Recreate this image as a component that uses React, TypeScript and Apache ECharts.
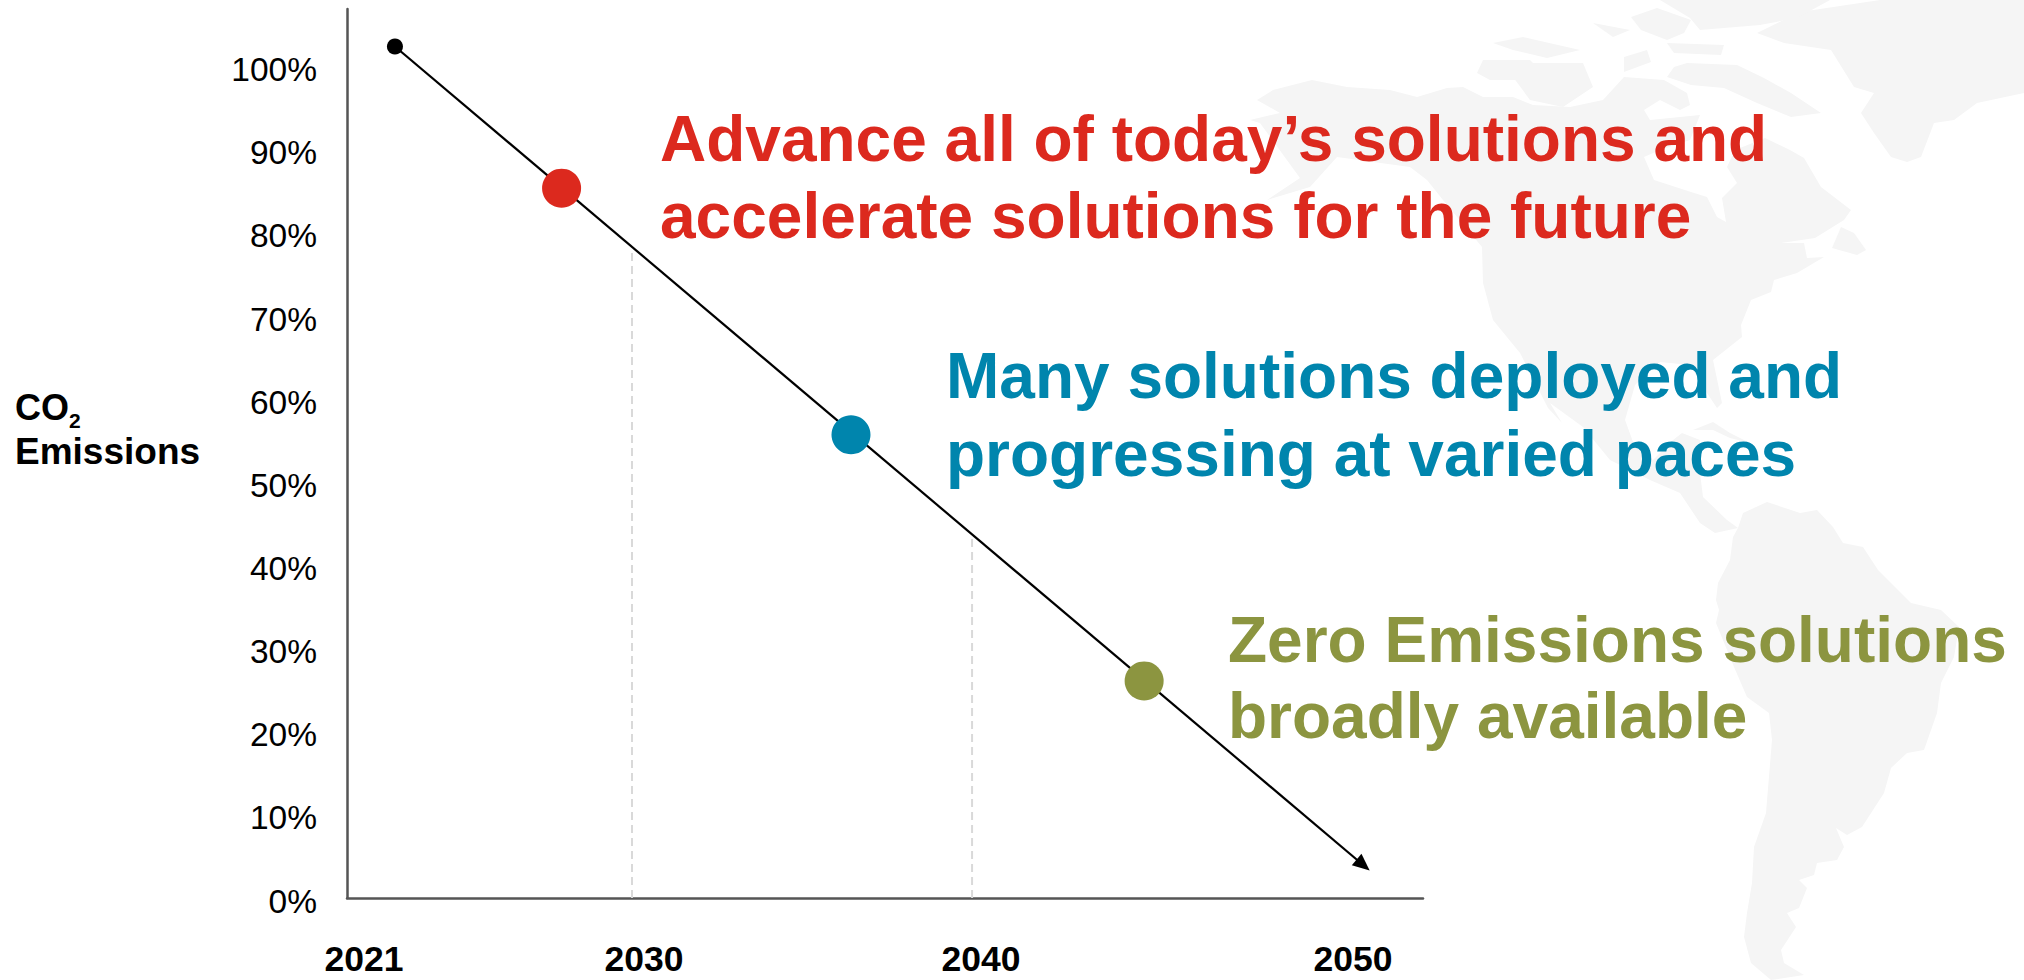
import React, { useEffect, useRef } from "react";
import * as echarts from "echarts";

const yTickStep = 10;
const xTickLabels = ["2021", "2030", "2040", "2050"];
// Where the printed year labels sit on the year scale (the source places them by hand).
const xTickPositions = [2022.12, 2030.35, 2040.26, 2051.2];
const dashedYears = [2030, 2040];
const dashedTops = [78.1, 43.6];
const trendYears = [2023.03, 2051.5];
const trendValues = [102.2, 3.96];
const milestoneYears = [2027.93, 2036.44, 2045.06];
const milestoneValues = [85.2, 55.6, 26.05];
const milestoneNames = ["Advance", "Deployed", "Zero Emissions"];
const RED = "#DC291E";
const BLUE = "#0085AD";
const OLIVE = "#8C9540";
const milestoneColors = [RED, BLUE, OLIVE];
const redLines = ["Advance all of today\u2019s solutions and", "accelerate solutions for the future"];
const blueLines = ["Many solutions deployed and", "progressing at varied paces"];
const oliveLines = ["Zero Emissions solutions", "broadly available"];

const FONT = "'Liberation Sans', Arial, sans-serif";
const MAP = "#f5f5f5";
const X_MIN = 2021.62;
const X_MAX = 2053.26;
const Y_MAX = 106.7;

const mapPaths = [
  // North and Central America
  "M1257 100L1273 90L1312 80L1347 87L1390 90L1417 97L1447 88L1463 87L1483 97L1513 97L1533 105L1570 107L1603 100L1624 77L1664 80L1687 93L1690 105L1680 110L1660 100L1644 110L1650 120L1700 115L1690 140L1660 150L1644 157L1654 180L1691 192L1707 197L1717 217L1726 222L1722 198L1737 183L1727 167L1735 150L1765 138L1790 150L1804 158L1821 187L1851 210L1844 220L1815 238L1781 243L1804 243L1807 258L1824 257L1797 273L1774 280L1771 292L1751 300L1741 325L1742 337L1713 360L1722 403L1717 408L1707 393L1690 365L1660 362L1635 385L1625 420L1633 442L1653 460L1673 440L1682 433L1700 440L1700 473L1703 497L1727 520L1738 528L1715 533L1700 523L1680 493L1650 480L1610 460L1583 427L1550 403L1562 423L1548 408L1517 347L1520 353L1493 320L1483 283L1482 247L1443 200L1427 180L1410 167L1337 157L1310 187L1267 200L1300 178L1260 123L1250 120L1280 113Z",
  // South America
  "M1738 528L1743 513L1767 502L1800 513L1817 510L1833 527L1843 543L1863 547L1878 570L1911 603L1941 610L1959 627L1954 657L1941 683L1937 713L1924 750L1907 753L1891 768L1884 793L1862 827L1847 835L1836 828L1844 847L1837 860L1817 863L1814 875L1799 880L1807 888L1799 908L1787 913L1796 927L1781 950L1784 963L1804 975L1771 980L1751 963L1744 937L1747 913L1752 883L1754 847L1766 813L1772 740L1769 713L1747 697L1734 667L1716 623L1719 610L1716 600L1718 583L1730 560L1733 537Z",
  // Greenland
  "M1757 33L1800 12L1880 0L2024 0L2024 93L1977 103L1954 120L1934 123L1921 157L1907 162L1891 157L1874 133L1861 113L1874 93L1854 87L1831 50L1784 43Z",
  // Arctic islands
  "M1687 63L1737 65L1764 78L1791 93L1821 113L1791 117L1757 103L1724 88L1691 85L1667 77L1674 67Z",
  "M1477 73L1483 60L1530 60L1550 80L1490 80Z",
  "M1513 77L1530 63L1583 63L1593 87L1563 107L1530 100Z",
  "M1493 43L1523 37L1580 50L1547 58L1513 50Z",
  "M1593 23L1630 30L1613 37Z",
  "M1631 17L1657 8L1691 20L1684 33L1667 40L1641 30Z",
  "M1667 43L1724 45L1721 55L1674 53Z",
  "M1624 57L1647 50L1651 62L1624 72Z",
  "M1660 0L1830 0L1797 18L1760 25L1700 30L1690 18Z",
  // Newfoundland and Cuba
  "M1832 248L1841 227L1854 233L1866 250L1857 255Z",
  "M1693 430L1713 422L1730 433L1750 443L1730 438L1713 430Z",
];
mapPaths.forEach((d, i) => {
  echarts.graphic.registerShape("land" + i, echarts.graphic.extendPath(d, {}) as any);
});

// Places text by its baseline: graphic text is top-anchored here.
function label(text: string, x: number, baseline: number, size: number, fill: string) {
  return {
    type: "text", x, y: baseline - 0.86 * size, z: 10, silent: true,
    style: { text, fill, font: `bold ${size}px ${FONT}`, textAlign: "left" },
  };
}

export default function App() {
  const ref = useRef<HTMLDivElement>(null);
  useEffect(() => {
    document.body.style.margin = "0";
    const chart = echarts.init(ref.current!, undefined, { renderer: "svg" });
    chart.setOption({
      animation: false,
      backgroundColor: "#fff",
      // The source prints its percentage labels about 4px below their true level, so a
      // second grid carries them.
      grid: [
        { left: 347, top: 9, width: 1076, height: 889, containLabel: false },
        { left: 347, top: 14, width: 1076, height: 887, containLabel: false },
      ],
      xAxis: [
        {
          type: "value", min: X_MIN, max: X_MAX, splitLine: { show: false },
          axisLine: { onZero: false, lineStyle: { color: "#555", width: 2.5 } },
          axisTick: { show: false },
          axisLabel: {
            customValues: xTickPositions, margin: 43, color: "#000",
            fontFamily: FONT, fontSize: 35.5, fontWeight: "bold",
            formatter: (v: number) => xTickLabels[xTickPositions.indexOf(v)] ?? "",
          },
        },
        { type: "value", gridIndex: 1, min: X_MIN, max: X_MAX, show: false },
      ],
      yAxis: [
        {
          type: "value", min: 0, max: Y_MAX, interval: yTickStep, splitLine: { show: false },
          axisLine: { show: true, onZero: false, lineStyle: { color: "#555", width: 2.5 } },
          axisTick: { show: false }, axisLabel: { show: false },
        },
        {
          type: "value", gridIndex: 1, min: 0, max: Y_MAX, interval: yTickStep, splitLine: { show: false },
          axisLine: { show: false, onZero: false }, axisTick: { show: false },
          axisLabel: {
            margin: 30, color: "#000", fontFamily: FONT, fontSize: 33.5,
            showMaxLabel: false,
            formatter: (v: number) => (v > 100 ? "" : `${v}%`),
          },
        },
      ],
      series: [
        ...dashedYears.map((yr, i) => ({
          type: "line", silent: true, showSymbol: false, z: 1,
          lineStyle: { color: "#d9d9d9", width: 2, type: [8, 5] },
          data: [[yr, 0], [yr, dashedTops[i]]],
        })),
        {
          type: "line", silent: true, z: 3,
          lineStyle: { color: "#000", width: 2.2 },
          itemStyle: { color: "#000" },
          data: [
            { value: [trendYears[0], trendValues[0]], symbol: "circle", symbolSize: 16 },
            { value: [trendYears[1], trendValues[1]], symbol: "triangle", symbolSize: [15, 17], symbolRotate: -130 },
          ],
        },
        ...milestoneYears.map((yr, i) => ({
          type: "scatter", name: milestoneNames[i], silent: true, z: 4,
          symbol: "circle", symbolSize: 39,
          itemStyle: { color: milestoneColors[i], opacity: 1 },
          data: [[yr, milestoneValues[i]]],
        })),
      ],
      graphic: [
        ...mapPaths.map((_, i) => ({
          type: "land" + i, x: 0, y: 0, z: 0, silent: true, style: { fill: MAP },
        })),
        label(redLines[0], 660, 162, 64, RED),
        label(redLines[1], 660, 239, 64, RED),
        label(blueLines[0], 946, 399, 64, BLUE),
        label(blueLines[1], 946, 477, 64, BLUE),
        label(oliveLines[0], 1228, 663, 64, OLIVE),
        label(oliveLines[1], 1228, 739, 64, OLIVE),
        label("CO", 15, 420, 36, "#000"),
        label("2", 69, 428, 21, "#000"),
        label("Emissions", 15, 465, 37, "#000"),
      ],
    });
    return () => chart.dispose();
  }, []);
  return <div ref={ref} style={{ width: 2024, height: 980 }} />;
}
